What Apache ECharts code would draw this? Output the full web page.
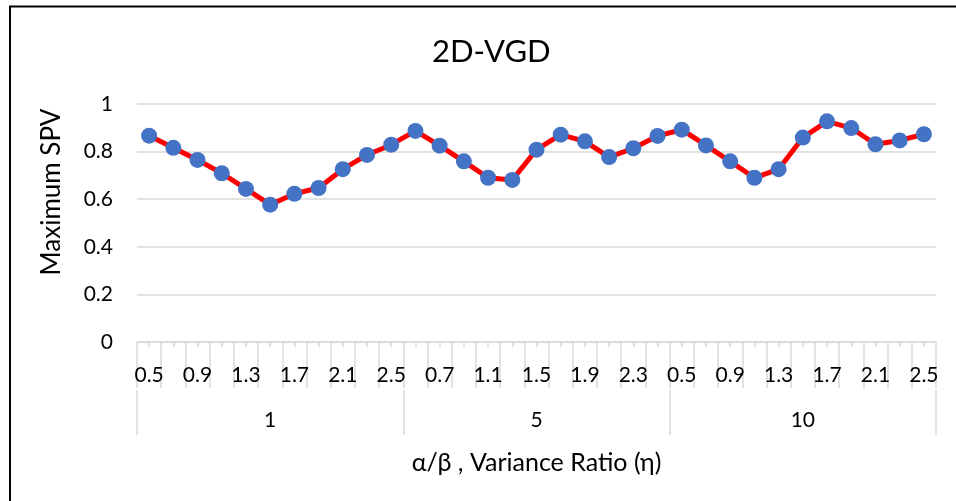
<!DOCTYPE html>
<html>
<head>
<meta charset="utf-8">
<script src="https://cdn.jsdelivr.net/npm/echarts@6/dist/echarts.min.js"></script>
<style>html,body{margin:0;padding:0;background:#fff;}#c{width:956px;height:501px;}</style>
</head>
<body>
<div id="c"></div>
<script>
const groups = ['1', '5', '10'];
const ratios = ['0.5','0.7','0.9','1.1','1.3','1.5','1.7','1.9','2.1','2.3','2.5'];
const values1 = [0.867, 0.816, 0.765, 0.709, 0.643, 0.577, 0.623, 0.647, 0.726, 0.786, 0.829];
const values5 = [0.887, 0.825, 0.759, 0.690, 0.681, 0.808, 0.871, 0.843, 0.777, 0.814, 0.866];
const values10 = [0.892, 0.826, 0.759, 0.690, 0.726, 0.859, 0.927, 0.899, 0.831, 0.847, 0.873];
const yTicks = [0, 0.2, 0.4, 0.6, 0.8, 1];

const categories = [];
groups.forEach(function (g) { ratios.forEach(function (r) { categories.push(r); }); });
const values = values1.concat(values5, values10);

const FONT = 'Lato, Carlito, "Open Sans", sans-serif';
const GRID_GREY = '#d9d9d9';
const chart = echarts.init(document.getElementById('c'), null, {renderer: 'canvas'});
chart.setOption({
  backgroundColor: '#fff',
  animation: false,
  textStyle: {fontFamily: FONT},
  title: {
    text: '2D-VGD', left: 427, top: 31,
    textStyle: {fontFamily: FONT, fontSize: 31, fontWeight: 'normal', color: '#000'}
  },
  grid: {left: 137, right: 20, top: 104, bottom: 159},
  xAxis: [
    {
      type: 'category', data: categories, boundaryGap: true,
      axisLine: {show: true, lineStyle: {color: GRID_GREY, width: 1.5}},
      axisTick: {show: true, interval: 0, length: 46, lineStyle: {color: GRID_GREY, width: 1.5}},
      axisLabel: {show: true, interval: 1, margin: 23, color: '#000', fontSize: 21, fontFamily: FONT}
    },
    {
      type: 'category', data: categories, boundaryGap: true, position: 'bottom',
      axisLine: {show: false},
      axisTick: {show: true, alignWithLabel: true, interval: 0, length: 5, lineStyle: {color: GRID_GREY, width: 1.5}},
      axisLabel: {show: false}
    },
    {
      type: 'category', data: groups, boundaryGap: true, position: 'bottom', offset: 48,
      axisLine: {show: false},
      axisTick: {show: true, interval: 0, length: 45, lineStyle: {color: GRID_GREY, width: 1.5}},
      axisLabel: {show: true, interval: 0, margin: 20, color: '#000', fontSize: 21, fontFamily: FONT},
      name: 'α/β , Variance Ratio (η)', nameLocation: 'middle', nameGap: 60,
      nameTextStyle: {color: '#000', fontSize: 25, fontFamily: FONT}
    }
  ],
  yAxis: {
    type: 'value', min: yTicks[0], max: yTicks[yTicks.length - 1], interval: 0.2,
    axisLine: {show: false}, axisTick: {show: false},
    splitLine: {show: true, lineStyle: {color: GRID_GREY, width: 1.5}},
    axisLabel: {margin: 24, color: '#000', fontSize: 21, fontFamily: FONT},
    name: 'Maximum SPV', nameLocation: 'middle', nameGap: 72,
    nameTextStyle: {color: '#000', fontSize: 26, fontFamily: FONT, padding: [0, 0, 0, 62]}
  },
  series: [{
    type: 'line', xAxisIndex: 0, data: values,
    lineStyle: {color: '#ff0000', width: 5},
    symbol: 'circle', symbolSize: 16,
    itemStyle: {color: '#4472c4', borderWidth: 0}
  }],
  graphic: [
    {type: 'line', shape: {x1: 9, y1: 6.5, x2: 956, y2: 6.5}, style: {stroke: '#000', lineWidth: 2}},
    {type: 'line', shape: {x1: 10, y1: 6, x2: 10, y2: 501}, style: {stroke: '#000', lineWidth: 2}}
  ]
});
</script>
</body>
</html>
